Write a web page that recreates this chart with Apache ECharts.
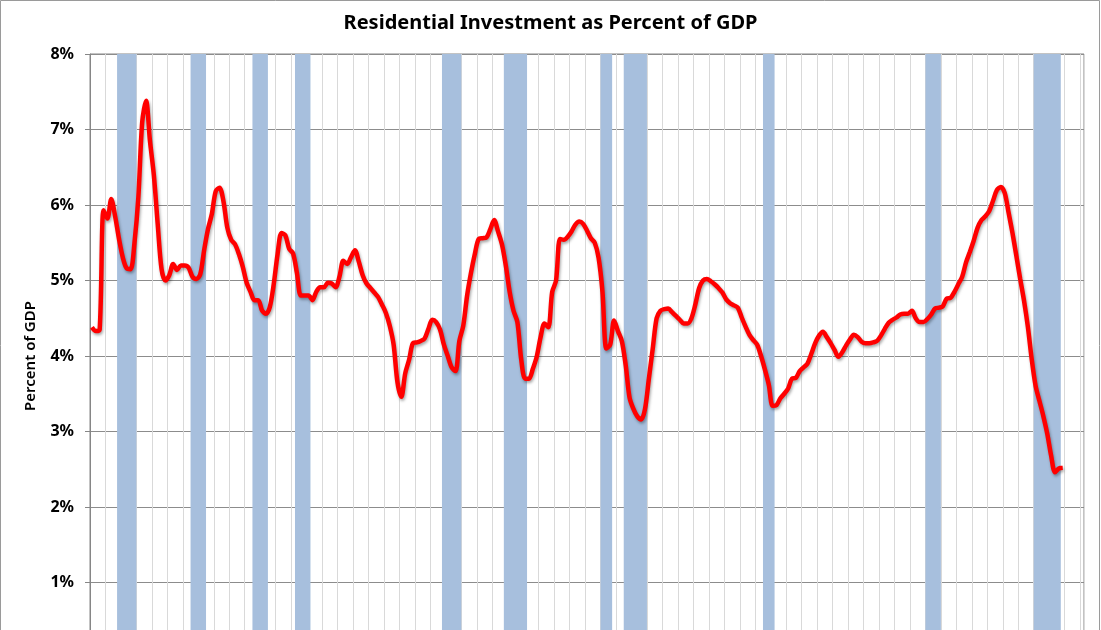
<!DOCTYPE html>
<html lang="en">
<head>
    <meta charset="UTF-8">
    <title>Residential Investment as Percent of GDP</title>
    <script src="https://cdn.jsdelivr.net/npm/echarts@6/dist/echarts.min.js"></script>
</head>
<body style="margin:0;width:1101px;height:630px;overflow:hidden;background:#fff">
    <!-- the chart runs below the bottom of the window, as in the cropped original -->
    <div id="container" style="width:1101px;height:700px"></div>
<script>
    // quarterly data, 1947Q1 onward (percent of GDP)
    var firstYear = 1947;
    var axisEnd = '2011Q1';
    var riPct = [
        4.38, 4.33, 4.35, 5.93,   // 1947
        5.82, 6.08, 5.85, 5.55,
        5.30, 5.16, 5.15, 5.50,
        6.10, 7.10, 7.38, 6.85,   // 1950
        6.40, 5.75, 5.15, 5.00,
        5.07, 5.22, 5.14, 5.20,
        5.20, 5.17, 5.05, 5.02,
        5.08, 5.40, 5.68, 5.88,
        6.18, 6.23, 6.05, 5.70,   // 1955
        5.54, 5.48, 5.35, 5.18,
        4.97, 4.85, 4.74, 4.74,
        4.60, 4.56, 4.65, 4.95,
        5.35, 5.63, 5.60, 5.42,
        5.36, 5.10, 4.80, 4.80,   // 1960
        4.80, 4.74, 4.85, 4.91,
        4.91, 4.97, 4.96, 4.91,
        5.05, 5.26, 5.22, 5.31,
        5.40, 5.25, 5.07, 4.96,
        4.90, 4.84, 4.78, 4.68,   // 1965
        4.57, 4.40, 4.15, 3.65,
        3.46, 3.77, 3.95, 4.17,
        4.18, 4.20, 4.23, 4.36,
        4.48, 4.45, 4.35, 4.15,
        4.00, 3.85, 3.80, 4.20,   // 1970
        4.40, 4.80, 5.10, 5.35,
        5.55, 5.56, 5.57, 5.68,
        5.80, 5.65, 5.48, 5.20,
        4.85, 4.60, 4.45, 3.95,
        3.70, 3.70, 3.83, 3.99,   // 1975
        4.25, 4.43, 4.38, 4.85,
        5.00, 5.55, 5.54, 5.58,
        5.65, 5.74, 5.78, 5.75,
        5.66, 5.56, 5.50, 5.30,
        4.85, 4.10, 4.15, 4.47,   // 1980
        4.33, 4.20, 3.88, 3.45,
        3.30, 3.20, 3.16, 3.30,
        3.70, 4.10, 4.50, 4.60,
        4.62, 4.63, 4.58, 4.53,
        4.48, 4.43, 4.43, 4.50,   // 1985
        4.68, 4.90, 5.00, 5.02,
        4.99, 4.95, 4.90, 4.84,
        4.75, 4.70, 4.67, 4.64,
        4.51, 4.39, 4.28, 4.21,
        4.15, 4.00, 3.82, 3.62,   // 1990
        3.34, 3.35, 3.44, 3.50,
        3.57, 3.70, 3.71, 3.80,
        3.85, 3.90, 4.03, 4.17,
        4.27, 4.32, 4.25, 4.17,
        4.08, 3.99, 4.05, 4.14,   // 1995
        4.22, 4.28, 4.25, 4.19,
        4.17, 4.17, 4.18, 4.20,
        4.27, 4.36, 4.44, 4.48,
        4.51, 4.55, 4.56, 4.56,
        4.60, 4.50, 4.45, 4.45,   // 2000
        4.49, 4.55, 4.63, 4.64,
        4.66, 4.76, 4.77, 4.85,
        4.95, 5.05, 5.24, 5.38,
        5.53, 5.70, 5.80, 5.85,
        5.92, 6.06, 6.20, 6.24,   // 2005
        6.16, 5.90, 5.63, 5.33,
        5.02, 4.73, 4.38, 3.95,
        3.60, 3.40, 3.20, 2.97,
        2.68, 2.46, 2.51, 2.52    // 2009
    ];

    // recessions, first and last quarter
    var recessions = [
        ['1948Q4', '1949Q4'], ['1953Q3', '1954Q2'], ['1957Q3', '1958Q2'],
        ['1960Q2', '1961Q1'], ['1969Q4', '1970Q4'], ['1973Q4', '1975Q1'],
        ['1980Q1', '1980Q3'], ['1981Q3', '1982Q4'], ['1990Q3', '1991Q1'],
        ['2001Q1', '2001Q4'], ['2008Q1', '2009Q3']
    ];

    function qStart(s) {
        return parseInt(s.slice(0, 4), 10) + (parseInt(s.slice(5), 10) - 1) / 4;
    }

    var points = riPct.map(function (v, i) {
        return [firstYear + (i + 0.5) / 4, v];
    });
    var areas = recessions.map(function (r) {
        return [{xAxis: qStart(r[0])}, {xAxis: qStart(r[1]) + 0.25}];
    });

    var dom = document.getElementById("container");
    var myChart = echarts.init(dom);

    var option = {
        animation: false,
        textStyle: {fontFamily: 'Noto Sans'},
        title: {
            text: 'Residential Investment as Percent of GDP',
            left: 'center',
            top: 8,
            textStyle: {fontSize: 20, fontWeight: 'bold', color: '#000', fontFamily: 'Noto Sans'}
        },
        graphic: [{
            type: 'rect',
            shape: {x: 0.5, y: 0.5, width: 1099, height: 690},
            style: {fill: 'none', stroke: '#9a9a9a', lineWidth: 1},
            silent: true
        }],
        grid: {
            left: 90, top: 54, width: 994, height: 604,
            show: true, borderColor: '#868686', borderWidth: 1
        },
        xAxis: {
            type: 'value',
            min: firstYear,
            max: qStart(axisEnd) + 0.25,
            interval: 1,
            axisLine: {show: false},
            axisTick: {show: false},
            axisLabel: {show: false},
            splitLine: {lineStyle: {color: '#d9d9d9', width: 1}}
        },
        yAxis: {
            type: 'value',
            min: 0,
            max: 8,
            interval: 1,
            name: 'Percent of GDP',
            nameLocation: 'middle',
            nameGap: 52,
            nameTextStyle: {fontSize: 15, fontWeight: 600, color: '#000'},
            axisLine: {show: true, lineStyle: {color: '#868686'}},
            axisTick: {show: true, length: 5, lineStyle: {color: '#868686'}},
            axisLabel: {formatter: '{value}%', fontSize: 16, fontWeight: 'bold', color: '#000', margin: 16},
            splitLine: {lineStyle: {color: '#8c8c8c', width: 1}}
        },
        series: [{
            name: 'Recessions',
            type: 'line',
            data: [],
            z: 1,
            markArea: {
                silent: true,
                itemStyle: {color: '#a7bfdd'},
                data: areas
            }
        }, {
            name: 'Residential Investment',
            type: 'line',
            data: points,
            z: 3,
            smooth: 0.3,
            symbol: 'none',
            lineStyle: {
                color: '#ff0000', width: 4.5,
                shadowColor: 'rgba(0,0,0,0.35)', shadowBlur: 3, shadowOffsetX: 1, shadowOffsetY: 2
            }
        }]
    };
    myChart.setOption(option, true);
</script>
</body>
</html>
